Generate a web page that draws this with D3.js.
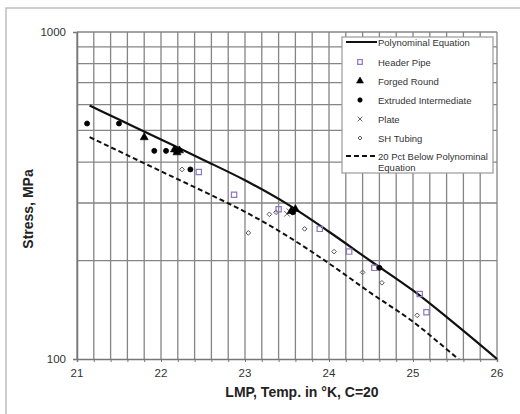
<!DOCTYPE html>
<html>
<head>
<meta charset="utf-8">
<script src="https://cdn.jsdelivr.net/npm/d3@7"></script>
<style>
body { margin: 0; background: #fff; }
text { font-family: "Liberation Sans", Arial, sans-serif; }
</style>
</head>
<body>
<div id="chart"></div>
<script>
// curve values
var polyLmp = [21.15, 21.5, 22, 22.5, 23, 23.5, 24, 24.5, 25, 25.5, 26];
var polyStress = [596, 540, 469, 407, 352, 298, 245, 199, 162, 128, 100];
var lowerStress = [477, 432, 375, 326, 282, 238, 196, 159, 130, 102, 80];

// test points [LMP, stress]
var headerPipe = [[22.45, 373], [22.87, 318], [23.40, 287], [23.89, 250], [24.24, 213],
    [24.54, 190], [25.08, 158], [25.16, 139]];
var forgedRound = [[21.80, 476], [22.16, 437], [22.19, 428], [22.22, 434], [23.55, 283], [23.60, 287]];
var extruded = [[21.12, 525], [21.50, 525], [21.92, 433], [22.06, 433], [22.18, 432],
    [22.35, 380], [23.57, 281], [24.60, 190]];
var plate = [[23.50, 278], [23.53, 283]];
var shTubing = [[22.25, 380], [23.04, 243], [23.29, 277], [23.37, 281], [23.71, 250],
    [24.06, 213], [24.40, 184], [24.63, 171], [25.05, 136]];

var xTickLabels = [21, 22, 23, 24, 25, 26];
var yTickLabels = [100, 1000];
var yGrid = [200, 300, 400, 500, 600, 700, 800, 900];

var legendNames = ["Polynominal Equation", "Header Pipe", "Forged Round", "Extruded Intermediate",
    "Plate", "SH Tubing", "20 Pct Below Polynominal"];

var svg = d3.select("#chart")
    .append("svg")
    .attr("width", 520)
    .attr("height", 414);

// outer frame
svg.append("rect")
    .attr("x", 6)
    .attr("y", 8)
    .attr("width", 530)
    .attr("height", 430)
    .attr("fill", "none")
    .attr("stroke", "#bdbdbd")
    .attr("stroke-width", 1.5);

var plotLeft = 77, plotRight = 497, plotTop = 32, plotBottom = 359;

var x = d3.scaleLinear().domain([21, 26]).range([plotLeft, plotRight]);
var y = d3.scaleLog().domain([100, 1000]).range([plotBottom, plotTop]);

var grid = svg.append("g").attr("stroke", "#858585").attr("stroke-width", 1.3);

grid.selectAll(".vg")
    .data(d3.range(0, 26))
    .enter()
    .append("line")
    .attr("x1", function (d) { return x(21 + d * 0.2); })
    .attr("x2", function (d) { return x(21 + d * 0.2); })
    .attr("y1", plotTop)
    .attr("y2", plotBottom);

grid.selectAll(".hg")
    .data(yGrid.concat([1000]))
    .enter()
    .append("line")
    .attr("x1", plotLeft)
    .attr("x2", plotRight)
    .attr("y1", function (d) { return y(d); })
    .attr("y2", function (d) { return y(d); });

// axes
var xAxis = svg.append("g")
    .attr("transform", "translate(0," + plotBottom + ")")
    .call(d3.axisBottom(x).tickValues(d3.range(0, 26).map(function (d) { return 21 + d * 0.2; }))
        .tickSize(3).tickFormat(""));
xAxis.select(".domain").attr("stroke", "#777").attr("stroke-width", 1.5);
xAxis.selectAll(".tick line").attr("stroke", "#777");

svg.selectAll(".xlab")
    .data(xTickLabels)
    .enter()
    .append("text")
    .attr("x", function (d) { return x(d); })
    .attr("y", 377)
    .attr("text-anchor", "middle")
    .attr("font-size", "11.5px")
    .attr("fill", "#333")
    .text(function (d) { return d; });

var yAxis = svg.append("g")
    .attr("transform", "translate(" + plotLeft + ",0)")
    .call(d3.axisLeft(y).tickValues(yTickLabels).tickSize(4).tickFormat(""));
yAxis.select(".domain").attr("stroke", "#777").attr("stroke-width", 1.5);
yAxis.selectAll(".tick line").attr("stroke", "#777");

svg.selectAll(".ylab")
    .data(yTickLabels)
    .enter()
    .append("text")
    .attr("x", 66)
    .attr("y", function (d) { return y(d) + 4; })
    .attr("text-anchor", "end")
    .attr("font-size", "11.5px")
    .attr("fill", "#333")
    .text(function (d) { return d; });

svg.append("text")
    .attr("x", 302)
    .attr("y", 397)
    .attr("text-anchor", "middle")
    .attr("font-size", "14px")
    .attr("font-weight", 700)
    .attr("fill", "#222")
    .text("LMP, Temp. in \u00B0K, C=20");

svg.append("text")
    .attr("transform", "translate(33,209) rotate(-90)")
    .attr("text-anchor", "middle")
    .attr("font-size", "14px")
    .attr("font-weight", 700)
    .attr("fill", "#222")
    .text("Stress, MPa");

// curves
svg.append("clipPath").attr("id", "plotClip")
    .append("rect")
    .attr("x", plotLeft).attr("y", plotTop)
    .attr("width", plotRight - plotLeft).attr("height", plotBottom - plotTop);

var line = d3.line()
    .x(function (d) { return x(d[0]); })
    .y(function (d) { return y(d[1]); })
    .curve(d3.curveMonotoneX);

svg.append("path")
    .attr("d", line(d3.zip(polyLmp, polyStress)))
    .attr("fill", "none")
    .attr("stroke", "#111")
    .attr("stroke-width", 2.2);

svg.append("path")
    .attr("d", line(d3.zip(polyLmp, lowerStress)))
    .attr("clip-path", "url(#plotClip)")
    .attr("fill", "none")
    .attr("stroke", "#111")
    .attr("stroke-width", 2)
    .attr("stroke-dasharray", "5,3");

// markers
function drawSymbol(sel, type, size, fill, stroke, sw) {
    return sel.append("path")
        .attr("d", d3.symbol().type(type).size(size))
        .attr("fill", fill)
        .attr("stroke", stroke)
        .attr("stroke-width", sw);
}

var styles = {
    header: { type: d3.symbolSquare, size: 28, fill: "none", stroke: "#8a78c0", sw: 1.2 },
    forged: { type: d3.symbolTriangle, size: 28, fill: "#000", stroke: "#000", sw: 0.6 },
    extruded: { type: d3.symbolCircle, size: 20, fill: "#000", stroke: "#000", sw: 0.8 },
    plate: { type: d3.symbolX, size: 22, fill: "none", stroke: "#666", sw: 1 },
    tubing: { type: d3.symbolDiamond2, size: 14, fill: "none", stroke: "#555", sw: 1 }
};

function drawPoints(data, st) {
    svg.append("g")
        .selectAll("g")
        .data(data)
        .enter()
        .append("g")
        .attr("transform", function (d) { return "translate(" + x(d[0]) + "," + y(d[1]) + ")"; })
        .each(function () {
            drawSymbol(d3.select(this), st.type, st.size, st.fill, st.stroke, st.sw);
        });
}

drawPoints(shTubing, styles.tubing);
drawPoints(headerPipe, styles.header);
drawPoints(plate, styles.plate);
drawPoints(extruded, styles.extruded);
drawPoints(forgedRound, styles.forged);

// legend
var legend = svg.append("g").attr("id", "legend");

legend.append("rect")
    .attr("x", 342)
    .attr("y", 37)
    .attr("width", 151)
    .attr("height", 136)
    .attr("fill", "#fff")
    .attr("stroke", "#9a9a9a")
    .attr("stroke-width", 1.2);

var legendY = [42, 62, 81, 100, 119, 138, 156];
var legendStyle = [null, styles.header, styles.forged, styles.extruded, styles.plate, styles.tubing, null];

legendNames.forEach(function (name, i) {
    legend.append("text")
        .attr("x", 378)
        .attr("y", legendY[i] + 3.5)
        .attr("font-size", "9.5px")
        .attr("fill", "#333")
        .text(name);
    if (legendStyle[i]) {
        var st = legendStyle[i];
        var g = legend.append("g").attr("transform", "translate(360," + legendY[i] + ")");
        drawSymbol(g, st.type, st.size * 0.75, st.fill, st.stroke, st.sw);
    }
});

legend.append("text")
    .attr("x", 378)
    .attr("y", 170.5)
    .attr("font-size", "9.5px")
    .attr("fill", "#333")
    .text("Equation");

legend.append("line")
    .attr("x1", 346).attr("x2", 377)
    .attr("y1", legendY[0]).attr("y2", legendY[0])
    .attr("stroke", "#111").attr("stroke-width", 2);

legend.append("line")
    .attr("x1", 346).attr("x2", 377)
    .attr("y1", legendY[6]).attr("y2", legendY[6])
    .attr("stroke", "#111").attr("stroke-width", 2)
    .attr("stroke-dasharray", "5,3");
</script>
</body>
</html>
